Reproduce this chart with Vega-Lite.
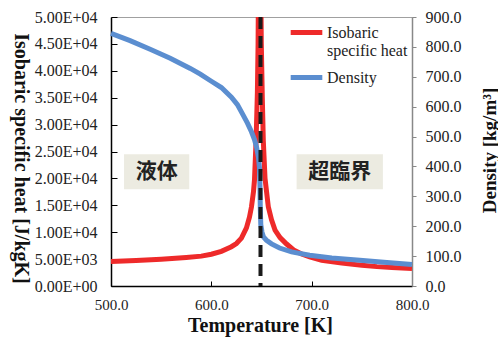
{
  "$schema": "https://vega.github.io/schema/vega-lite/v6.json",
  "width": 301,
  "height": 269,
  "autosize": {"type": "none"},
  "padding": {"left": 111, "top": 17, "right": 86, "bottom": 56},
  "background": "white",
  "config": {
    "view": {"stroke": "#a0a0a0", "strokeWidth": 1},
    "font": "Liberation Serif",
    "axis": {"labelFont": "Liberation Serif", "titleFont": "Liberation Serif"},
    "legend": {"labelFont": "Liberation Serif"}
  },
  "datasets": {
    "cp": [
      {"T": 500, "cp": 4550}, {"T": 525, "cp": 4720}, {"T": 550, "cp": 4970}, {"T": 575, "cp": 5300},
      {"T": 590, "cp": 5550}, {"T": 600, "cp": 5900}, {"T": 610, "cp": 6450}, {"T": 620, "cp": 7300},
      {"T": 625, "cp": 7900}, {"T": 630, "cp": 8900}, {"T": 635, "cp": 10800}, {"T": 638, "cp": 12800},
      {"T": 640, "cp": 14700}, {"T": 642, "cp": 17500}, {"T": 643, "cp": 19700}, {"T": 644.6, "cp": 27000},
      {"T": 645.9, "cp": 36000}, {"T": 646.6, "cp": 45000}, {"T": 648, "cp": 85000}, {"T": 649.8, "cp": 45000},
      {"T": 650.8, "cp": 35000}, {"T": 651.8, "cp": 27000}, {"T": 653.5, "cp": 20000}, {"T": 656.8, "cp": 14700},
      {"T": 660, "cp": 12300}, {"T": 663.5, "cp": 10400}, {"T": 668.5, "cp": 9000}, {"T": 675, "cp": 7800},
      {"T": 682, "cp": 6700}, {"T": 690, "cp": 5950}, {"T": 698, "cp": 5400}, {"T": 710, "cp": 4800},
      {"T": 730, "cp": 4250}, {"T": 750, "cp": 3850}, {"T": 765, "cp": 3600}, {"T": 780, "cp": 3420},
      {"T": 800, "cp": 3250}
    ],
    "rho": [
      {"T": 500, "rho": 845}, {"T": 519, "rho": 821}, {"T": 539, "rho": 792}, {"T": 559, "rho": 762},
      {"T": 579, "rho": 728}, {"T": 589, "rho": 709}, {"T": 600, "rho": 685}, {"T": 610, "rho": 664},
      {"T": 620, "rho": 632}, {"T": 626, "rho": 607}, {"T": 632, "rho": 570}, {"T": 636, "rho": 545},
      {"T": 640, "rho": 516}, {"T": 643, "rho": 490}, {"T": 645, "rho": 466}, {"T": 647, "rho": 430},
      {"T": 648, "rho": 395}, {"T": 648.5, "rho": 330}, {"T": 648.8, "rho": 260}, {"T": 649.3, "rho": 205},
      {"T": 650.5, "rho": 180}, {"T": 652, "rho": 164}, {"T": 655, "rho": 153}, {"T": 660, "rho": 141},
      {"T": 668, "rho": 127}, {"T": 680, "rho": 114}, {"T": 698, "rho": 103}, {"T": 720, "rho": 94},
      {"T": 748, "rho": 86}, {"T": 775, "rho": 79}, {"T": 800, "rho": 72}
    ],
    "boxes": [
      {"t1": 513, "t2": 578, "d1": 324, "d2": 441, "label": "液体", "tm": 545.5, "dm": 383},
      {"t1": 685, "t2": 771, "d1": 324, "d2": 441, "label": "超臨界", "tm": 728, "dm": 383}
    ],
    "crit": [{"Tc": 649}]
  },
  "layer": [
    {
      "data": {"name": "cp"},
      "mark": {"type": "line", "strokeWidth": 5, "clip": true},
      "encoding": {
        "x": {
          "field": "T", "type": "quantitative", "title": "Temperature [K]",
          "scale": {"domain": [500, 800], "nice": false, "zero": false},
          "axis": {
            "values": [500, 600, 700, 800], "format": ".1f", "grid": false, "labelOverlap": false,
            "domainColor": "#000", "domainWidth": 1.5, "tickColor": "#000", "tickSize": -5,
            "labelFont": "Liberation Serif", "labelFontSize": 15, "labelColor": "#222", "labelPadding": 16, "labelFlush": false,
            "titleFont": "Liberation Serif", "titleFontSize": 20, "titleFontWeight": "bold", "titleColor": "#111",
            "titleX": 149, "titleY": 45, "titleBaseline": "alphabetic", "titleAlign": "center",
            "encode": {"labels": {"update": {"font": {"value": "Liberation Serif"}}}}
          }
        },
        "y": {
          "field": "cp", "type": "quantitative", "title": "Isobaric specific heat [J/kgK]",
          "scale": {"domain": [0, 50000], "nice": false},
          "axis": {
            "values": [0, 5000, 10000, 15000, 20000, 25000, 30000, 35000, 40000, 45000, 50000],
            "labelExpr": "datum.value == 0 ? '0.00E+00' : (datum.value < 10000 ? format(datum.value / 1000, '.2f') + 'E+03' : format(datum.value / 10000, '.2f') + 'E+04')",
            "grid": false, "labelOverlap": false, "domainColor": "#000", "domainWidth": 1.5, "tickColor": "#000", "tickSize": -6,
            "labelFont": "Liberation Serif", "labelFontSize": 16, "labelColor": "#222", "labelPadding": 20,
            "titleFont": "Liberation Serif", "titleFontSize": 20, "titleFontWeight": "bold", "titleColor": "#111", "titleAngle": 90,
            "titleX": -91, "titleY": 141, "titleAlign": "center", "titleBaseline": "middle",
            "encode": {"labels": {"update": {"font": {"value": "Liberation Serif"}}}}
          }
        },
        "color": {
          "datum": "Isobaric specific heat", "type": "nominal",
          "scale": {"domain": ["Isobaric specific heat", "Density"], "range": ["#ee2a2a", "#5b8ed0"]},
          "legend": {
            "orient": "none", "legendX": 177, "legendY": -3, "title": null, "padding": 0,
            "symbolType": "stroke", "symbolSize": 1000, "symbolStrokeWidth": 5,
            "labelFont": "Liberation Serif", "labelFontSize": 16, "labelColor": "#222", "labelOffset": 2, "rowPadding": -4,
            "labelExpr": "datum.label == 'Isobaric specific heat' ? ['Isobaric', 'specific heat'] : datum.label"
          }
        }
      }
    },
    {
      "encoding": {
        "y": {
          "type": "quantitative", "title": "Density [kg/m³]",
          "scale": {"domain": [0, 900], "nice": false},
          "axis": {
            "orient": "right", "values": [0, 100, 200, 300, 400, 500, 600, 700, 800, 900], "format": ".1f",
            "grid": false, "labelOverlap": false, "domainColor": "#888", "domainWidth": 1.5, "tickColor": "#888", "tickSize": 4,
            "labelFont": "Liberation Serif", "labelFontSize": 16, "labelColor": "#222", "labelPadding": 9,
            "titleFont": "Liberation Serif", "titleFontSize": 19, "titleFontWeight": "bold", "titleColor": "#111", "titleAngle": -90,
            "titleX": 77, "titleY": 133, "titleAlign": "center", "titleBaseline": "middle",
            "encode": {"labels": {"update": {"font": {"value": "Liberation Serif"}}}}
          }
        }
      },
      "layer": [
        {
          "data": {"name": "boxes"},
          "mark": {"type": "rect", "color": "#ecebe1"},
          "encoding": {
            "x": {"field": "t1", "type": "quantitative", "title": "Temperature [K]"},
            "x2": {"field": "t2"},
            "y": {"field": "d1", "type": "quantitative"},
            "y2": {"field": "d2"}
          }
        },
        {
          "data": {"name": "boxes"},
          "mark": {"type": "text", "font": "Noto Sans CJK JP", "fontWeight": "bold", "fontSize": 21, "color": "#222", "baseline": "middle", "align": "center"},
          "encoding": {
            "x": {"field": "tm", "type": "quantitative", "title": "Temperature [K]"},
            "y": {"field": "dm", "type": "quantitative"},
            "text": {"field": "label"}
          }
        },
        {
          "data": {"name": "rho"},
          "mark": {"type": "line", "strokeWidth": 5},
          "encoding": {
            "x": {"field": "T", "type": "quantitative", "title": "Temperature [K]"},
            "y": {"field": "rho", "type": "quantitative"},
            "color": {
              "datum": "Density", "type": "nominal",
              "scale": {"domain": ["Isobaric specific heat", "Density"], "range": ["#ee2a2a", "#5b8ed0"]}
            }
          }
        },
        {
          "data": {"name": "crit"},
          "mark": {"type": "rule", "color": "#1a1a1a", "strokeWidth": 4, "strokeDash": [12, 7]},
          "encoding": {
            "x": {"field": "Tc", "type": "quantitative", "title": "Temperature [K]"}
          }
        }
      ]
    }
  ],
  "resolve": {"scale": {"y": "independent"}}
}
